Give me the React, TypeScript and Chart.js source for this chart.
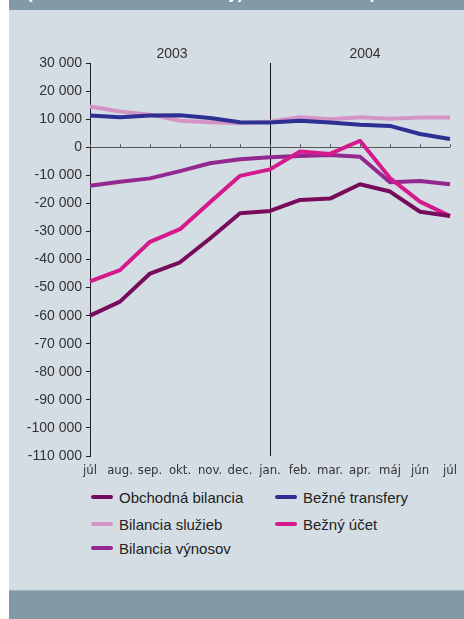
import React, { useEffect, useRef } from "react";
import { Chart, registerables } from "chart.js";

Chart.register(...registerables);

const months = ["júl", "aug.", "sep.", "okt.", "nov.", "dec.", "jan.", "feb.", "mar.", "apr.", "máj", "jún", "júl"];
const years = ["2003", "2004"];
const yTicks = { min: -110000, max: 30000, step: 10000 };

const obchodnaBilancia = [-60000, -55000, -45000, -41000, -32500, -23500, -22700, -18800, -18300, -13200, -15800, -23000, -24500];
const bezneTransfery = [11300, 10700, 11300, 11400, 10400, 8900, 8800, 9400, 8800, 8000, 7600, 4700, 2900];
const bilanciaSluzieb = [14500, 12700, 11600, 9400, 8900, 8500, 9200, 10700, 10000, 10700, 10100, 10600, 10600];
const beznyUcet = [-47800, -43800, -33700, -29200, -19600, -10200, -7900, -1500, -2400, 2300, -11000, -19400, -24500];
const bilanciaVynosov = [-13700, -12300, -11100, -8500, -5700, -4300, -3600, -3100, -2800, -3400, -12500, -12000, -13200];

const seriesNames = ["Obchodná bilancia", "Bežné transfery", "Bilancia služieb", "Bežný účet", "Bilancia výnosov"];
const seriesColors = ["#780c5c", "#2e2f92", "#d495c6", "#d41a8d", "#93288f"];
const seriesData = [obchodnaBilancia, bezneTransfery, bilanciaSluzieb, beznyUcet, bilanciaVynosov];

const fmt = (v: number) => {
  const s = Math.abs(v).toString().replace(/\B(?=(\d{3})+(?!\d))/g, " ");
  return (v < 0 ? "-" : "") + s;
};

const zeroTicks = {
  id: "zeroTicks",
  beforeDatasetsDraw(chart: any) {
    const { ctx, scales } = chart;
    const x = scales.x;
    const y = scales.y;
    const y0 = y.getPixelForValue(0);
    ctx.save();
    ctx.strokeStyle = "#555";
    ctx.lineWidth = 1;
    ctx.beginPath();
    months.forEach((_, i) => {
      const px = Math.round(x.getPixelForValue(i)) + 0.5;
      ctx.moveTo(px, y0);
      ctx.lineTo(px, y0 - 3);
    });
    ctx.stroke();
    ctx.restore();
  },
};

export default function App() {
  const ref = useRef<HTMLCanvasElement>(null);
  useEffect(() => {
    if (!ref.current) return;
    Chart.defaults.font.family = "'Liberation Sans', Arial, sans-serif";
    const chart = new Chart(ref.current, {
      type: "line",
      data: {
        labels: months,
        datasets: seriesNames.map((n, i) => ({
          label: n,
          data: seriesData[i],
          borderColor: seriesColors[i],
          backgroundColor: seriesColors[i],
          borderWidth: 4,
          pointRadius: 0,
          tension: 0,
          borderJoinStyle: "round" as const,
          fill: false,
        })),
      },
      options: {
        animation: false,
        responsive: false,
        devicePixelRatio: 1,
        layout: { padding: { left: 0, right: 14, top: 63, bottom: 0 } },
        plugins: { legend: { display: false }, tooltip: { enabled: false } },
        scales: {
          x: {
            type: "category",
            offset: false,
            grid: {
              display: true,
              drawTicks: false,
              color: (c: any) => (c.index === 6 ? "#111" : "rgba(0,0,0,0)"),
              lineWidth: 1,
            },
            border: { display: false },
            ticks: {
              font: { family: "'Liberation Sans Narrow', 'DejaVu Sans Condensed', sans-serif", size: 13 },
              color: "#333",
              padding: 7,
              maxRotation: 0,
              minRotation: 0,
              autoSkip: false,
            },
            afterFit: (s: any) => {
              s.height = 24;
            },
          },
          y: {
            min: yTicks.min,
            max: yTicks.max,
            ticks: {
              stepSize: yTicks.step,
              callback: (v: any) => fmt(Number(v)),
              font: { size: 14 },
              color: "#333",
              padding: 4,
            },
            grid: {
              color: (c: any) => (c.tick && c.tick.value === 0 ? "#555" : "rgba(0,0,0,0)"),
              tickColor: "#222",
              tickLength: 4,
              lineWidth: 1,
            },
            border: { display: true, color: "#222", width: 1 },
            afterFit: (s: any) => {
              s.width = 90;
            },
          },
        },
      },
      plugins: [zeroTicks],
    });
    return () => chart.destroy();
  }, []);

  const legendPos = [
    { x: 91, y: 497 },
    { x: 275, y: 497 },
    { x: 91, y: 524 },
    { x: 275, y: 524 },
    { x: 91, y: 548 },
  ];
  const legendOrder = [0, 1, 2, 3, 4];

  return (
    <div style={{ position: "fixed", left: 0, top: 0, width: 464, height: 619, background: "#fff", overflow: "hidden", fontFamily: "'Liberation Sans', Arial, sans-serif" }}>
      <div style={{ position: "absolute", left: 9, top: 0, width: 455, height: 619, background: "#d5dde4" }} />
      <div style={{ position: "absolute", left: 9, top: 0, width: 455, height: 10, background: "#8299a6", overflow: "hidden" }}>
        <div style={{ position: "absolute", left: 18, top: -15, fontSize: 17, lineHeight: "17px", fontWeight: "bold", color: "#fff", whiteSpace: "nowrap" }}>
          (12-mesačné kĺzavé úhrny) v mil. Sk
        </div>
        <div style={{ position: "absolute", left: 359, top: -15, fontSize: 17, lineHeight: "17px", fontWeight: "bold", color: "#fff", whiteSpace: "nowrap" }}>
          (2003 – 2004)
        </div>
      </div>
      <div style={{ position: "absolute", left: 9, top: 590, width: 455, height: 29, background: "#8299a6", borderTop: "1px solid #9fb0ba", boxSizing: "border-box" }} />
      <canvas ref={ref} width={464} height={480} style={{ position: "absolute", left: 0, top: 0, width: 464, height: 480 }} />
      <div style={{ position: "absolute", left: 142, top: 45, width: 60, textAlign: "center", fontSize: 14, lineHeight: "16px", color: "#333" }}>{years[0]}</div>
      <div style={{ position: "absolute", left: 335, top: 45, width: 60, textAlign: "center", fontSize: 14, lineHeight: "16px", color: "#333" }}>{years[1]}</div>
      {legendOrder.map((i, k) => (
        <div key={i} style={{ position: "absolute", left: legendPos[k].x, top: legendPos[k].y - 10, height: 20, display: "flex", alignItems: "center", whiteSpace: "nowrap" }}>
          <span style={{ display: "inline-block", width: 22, height: 4, borderRadius: 2, background: seriesColors[i], marginRight: 6 }} />
          <span style={{ fontSize: 15, color: "#222" }}>{seriesNames[i]}</span>
        </div>
      ))}
    </div>
  );
}
